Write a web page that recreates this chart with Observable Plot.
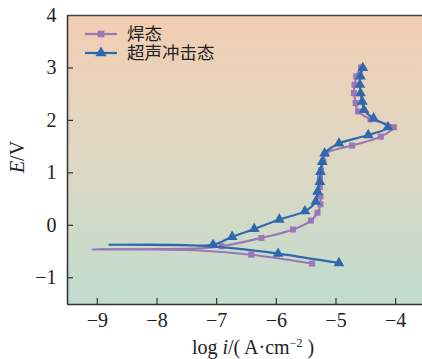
<!DOCTYPE html>
<html><head><meta charset="utf-8">
<script src="https://cdn.jsdelivr.net/npm/d3@7"></script>
<script src="https://cdn.jsdelivr.net/npm/@observablehq/plot@0.6"></script>
<style>
body{margin:0;background:#fff;}
#wrap{position:relative;width:422px;height:359px;}
</style></head>
<body><div id="wrap"></div>
<script>
// 焊态 (as-welded): [log i, E]
const weldedX = [-5.40,-6.42,-7.3,-8.3,-9.08,-8.0,-7.3,-6.92,-6.25,-5.72,-5.42,-5.31,-5.26,-5.26,-5.27,-5.27,-5.25,-5.21,-5.17,-4.73,-4.25,-4.03,-4.42,-4.63,-4.67,-4.70,-4.69,-4.66,-4.58];
const weldedE = [-0.73,-0.56,-0.48,-0.46,-0.46,-0.455,-0.44,-0.40,-0.24,-0.08,0.09,0.24,0.40,0.55,0.73,0.90,1.05,1.22,1.37,1.52,1.69,1.87,2.02,2.17,2.33,2.52,2.68,2.84,3.01];
const weldedMark = [1,1,0,0,0,0,0,1,1,1,1,1,1,1,1,1,1,1,1,1,1,1,1,1,1,1,1,1,1];
// 超声冲击态 (ultrasonic impact treated)
const uitX = [-4.95,-5.97,-6.7,-7.3,-8.8,-7.7,-7.06,-6.74,-6.37,-5.95,-5.52,-5.34,-5.31,-5.27,-5.26,-5.23,-5.19,-4.95,-4.46,-4.13,-4.37,-4.53,-4.56,-4.59,-4.60,-4.59,-4.55];
const uitE = [-0.72,-0.54,-0.44,-0.39,-0.37,-0.37,-0.37,-0.22,-0.07,0.11,0.27,0.45,0.64,0.83,1.02,1.21,1.37,1.56,1.72,1.87,2.04,2.20,2.36,2.52,2.68,2.84,3.00];
const uitMark = [1,1,0,0,0,0,1,1,1,1,1,1,1,1,1,1,1,1,1,1,1,1,1,1,1,1,1];
const seriesNames = ["焊态","超声冲击态"];
const xTicks = [-9,-8,-7,-6,-5,-4];
const yTicks = [-1,0,1,2,3,4];

const purple = "#9a78b6", blue = "#2f68ad";
const welded = weldedX.map((x,i)=>({x, y: weldedE[i], m: weldedMark[i]}));
const uit = uitX.map((x,i)=>({x, y: uitE[i], m: uitMark[i]}));
const serif = "'Liberation Serif','Times New Roman',serif";
const xMin = -9.5, xMax = -3.55, yMin = -1.51, yMax = 4;

const plot = Plot.plot({
  width: 422, height: 359,
  marginLeft: 67, marginRight: 0, marginTop: 15, marginBottom: 55,
  style: {fontFamily: serif, fontSize: "20px", color: "#222", background: "transparent", overflow: "visible"},
  x: {domain: [xMin, xMax], ticks: xTicks, tickSize: 0, tickPadding: 8, label: null, tickFormat: d => String(d).replace("-", "\u2212")},
  y: {domain: [yMin, yMax], ticks: yTicks, tickSize: 0, tickPadding: 11, label: null, tickFormat: d => String(d).replace("-", "\u2212")},
  marks: [
    Plot.frame({fill: "url(#bggrad)", stroke: null}),
    Plot.ruleX(xTicks, {x: d => d, y1: yMin, y2: yMin + 6/52.5, stroke: "#333", strokeWidth: 1.2}),
    Plot.ruleY(yTicks.filter(d=>d<4), {y: d => d, x1: xMin, x2: xMin + 6/59.6, stroke: "#333", strokeWidth: 1.2}),
    Plot.ruleY([yMin], {stroke: "#333", strokeWidth: 1.5}),
    Plot.ruleY([yMax], {stroke: "#444", strokeWidth: 1.5}),
    Plot.ruleX([xMin], {stroke: "#333", strokeWidth: 1.5}),
    Plot.line(welded, {x: "x", y: "y", stroke: purple, strokeWidth: 2.1, curve: "catmull-rom"}),
    Plot.dot(welded.filter(d=>d.m), {x: "x", y: "y", symbol: "square", fill: purple, r: 3.4}),
    Plot.line(uit, {x: "x", y: "y", stroke: blue, strokeWidth: 2.1, curve: "catmull-rom"}),
    Plot.dot(uit.filter(d=>d.m), {x: "x", y: "y", symbol: "triangle", fill: blue, r: 4})
  ]
});
const svg = d3.select(plot);
const defs = svg.insert("defs", ":first-child");
const g = defs.append("linearGradient").attr("id","bggrad").attr("x1",0).attr("y1",0).attr("x2",0).attr("y2",1);
g.append("stop").attr("offset","0%").attr("stop-color","#f3cdb4");
g.append("stop").attr("offset","50%").attr("stop-color","#ddd8c3");
g.append("stop").attr("offset","100%").attr("stop-color","#c0dccf");
// axis titles
svg.append("text").attr("transform","translate(24,157) rotate(-90)").attr("text-anchor","middle")
  .attr("font-size",20).attr("font-family",serif).attr("fill","#222")
  .html('<tspan font-style="italic">E</tspan>/V');
svg.append("text").attr("x",253).attr("y",354).attr("text-anchor","middle")
  .attr("font-size",20).attr("font-family",serif).attr("fill","#222")
  .html('log <tspan font-style="italic">i</tspan>/( A\u00b7cm<tspan dy="-7" font-size="12">\u22122</tspan><tspan dy="7"> )</tspan>');
// legend
const leg = svg.append("g");
[[purple,"square"],[blue,"triangle"]].forEach(([c,s],i)=>{
  const y = 34 + i*19;
  leg.append("line").attr("x1",85).attr("x2",117).attr("y1",y).attr("y2",y).attr("stroke",c).attr("stroke-width",2.2);
  leg.append("path").attr("transform",`translate(101,${y})`)
    .attr("d", d3.symbol(s==="square"?d3.symbolSquare:d3.symbolTriangle, s==="square"?45:55)())
    .attr("fill",c);
  leg.append("text").attr("x",127).attr("y",y+6).attr("text-anchor","start").attr("font-size",17.5)
    .attr("font-family","'Noto Sans CJK SC',sans-serif").attr("fill","#222").text(seriesNames[i]);
});
document.getElementById("wrap").appendChild(plot);
</script></body></html>
